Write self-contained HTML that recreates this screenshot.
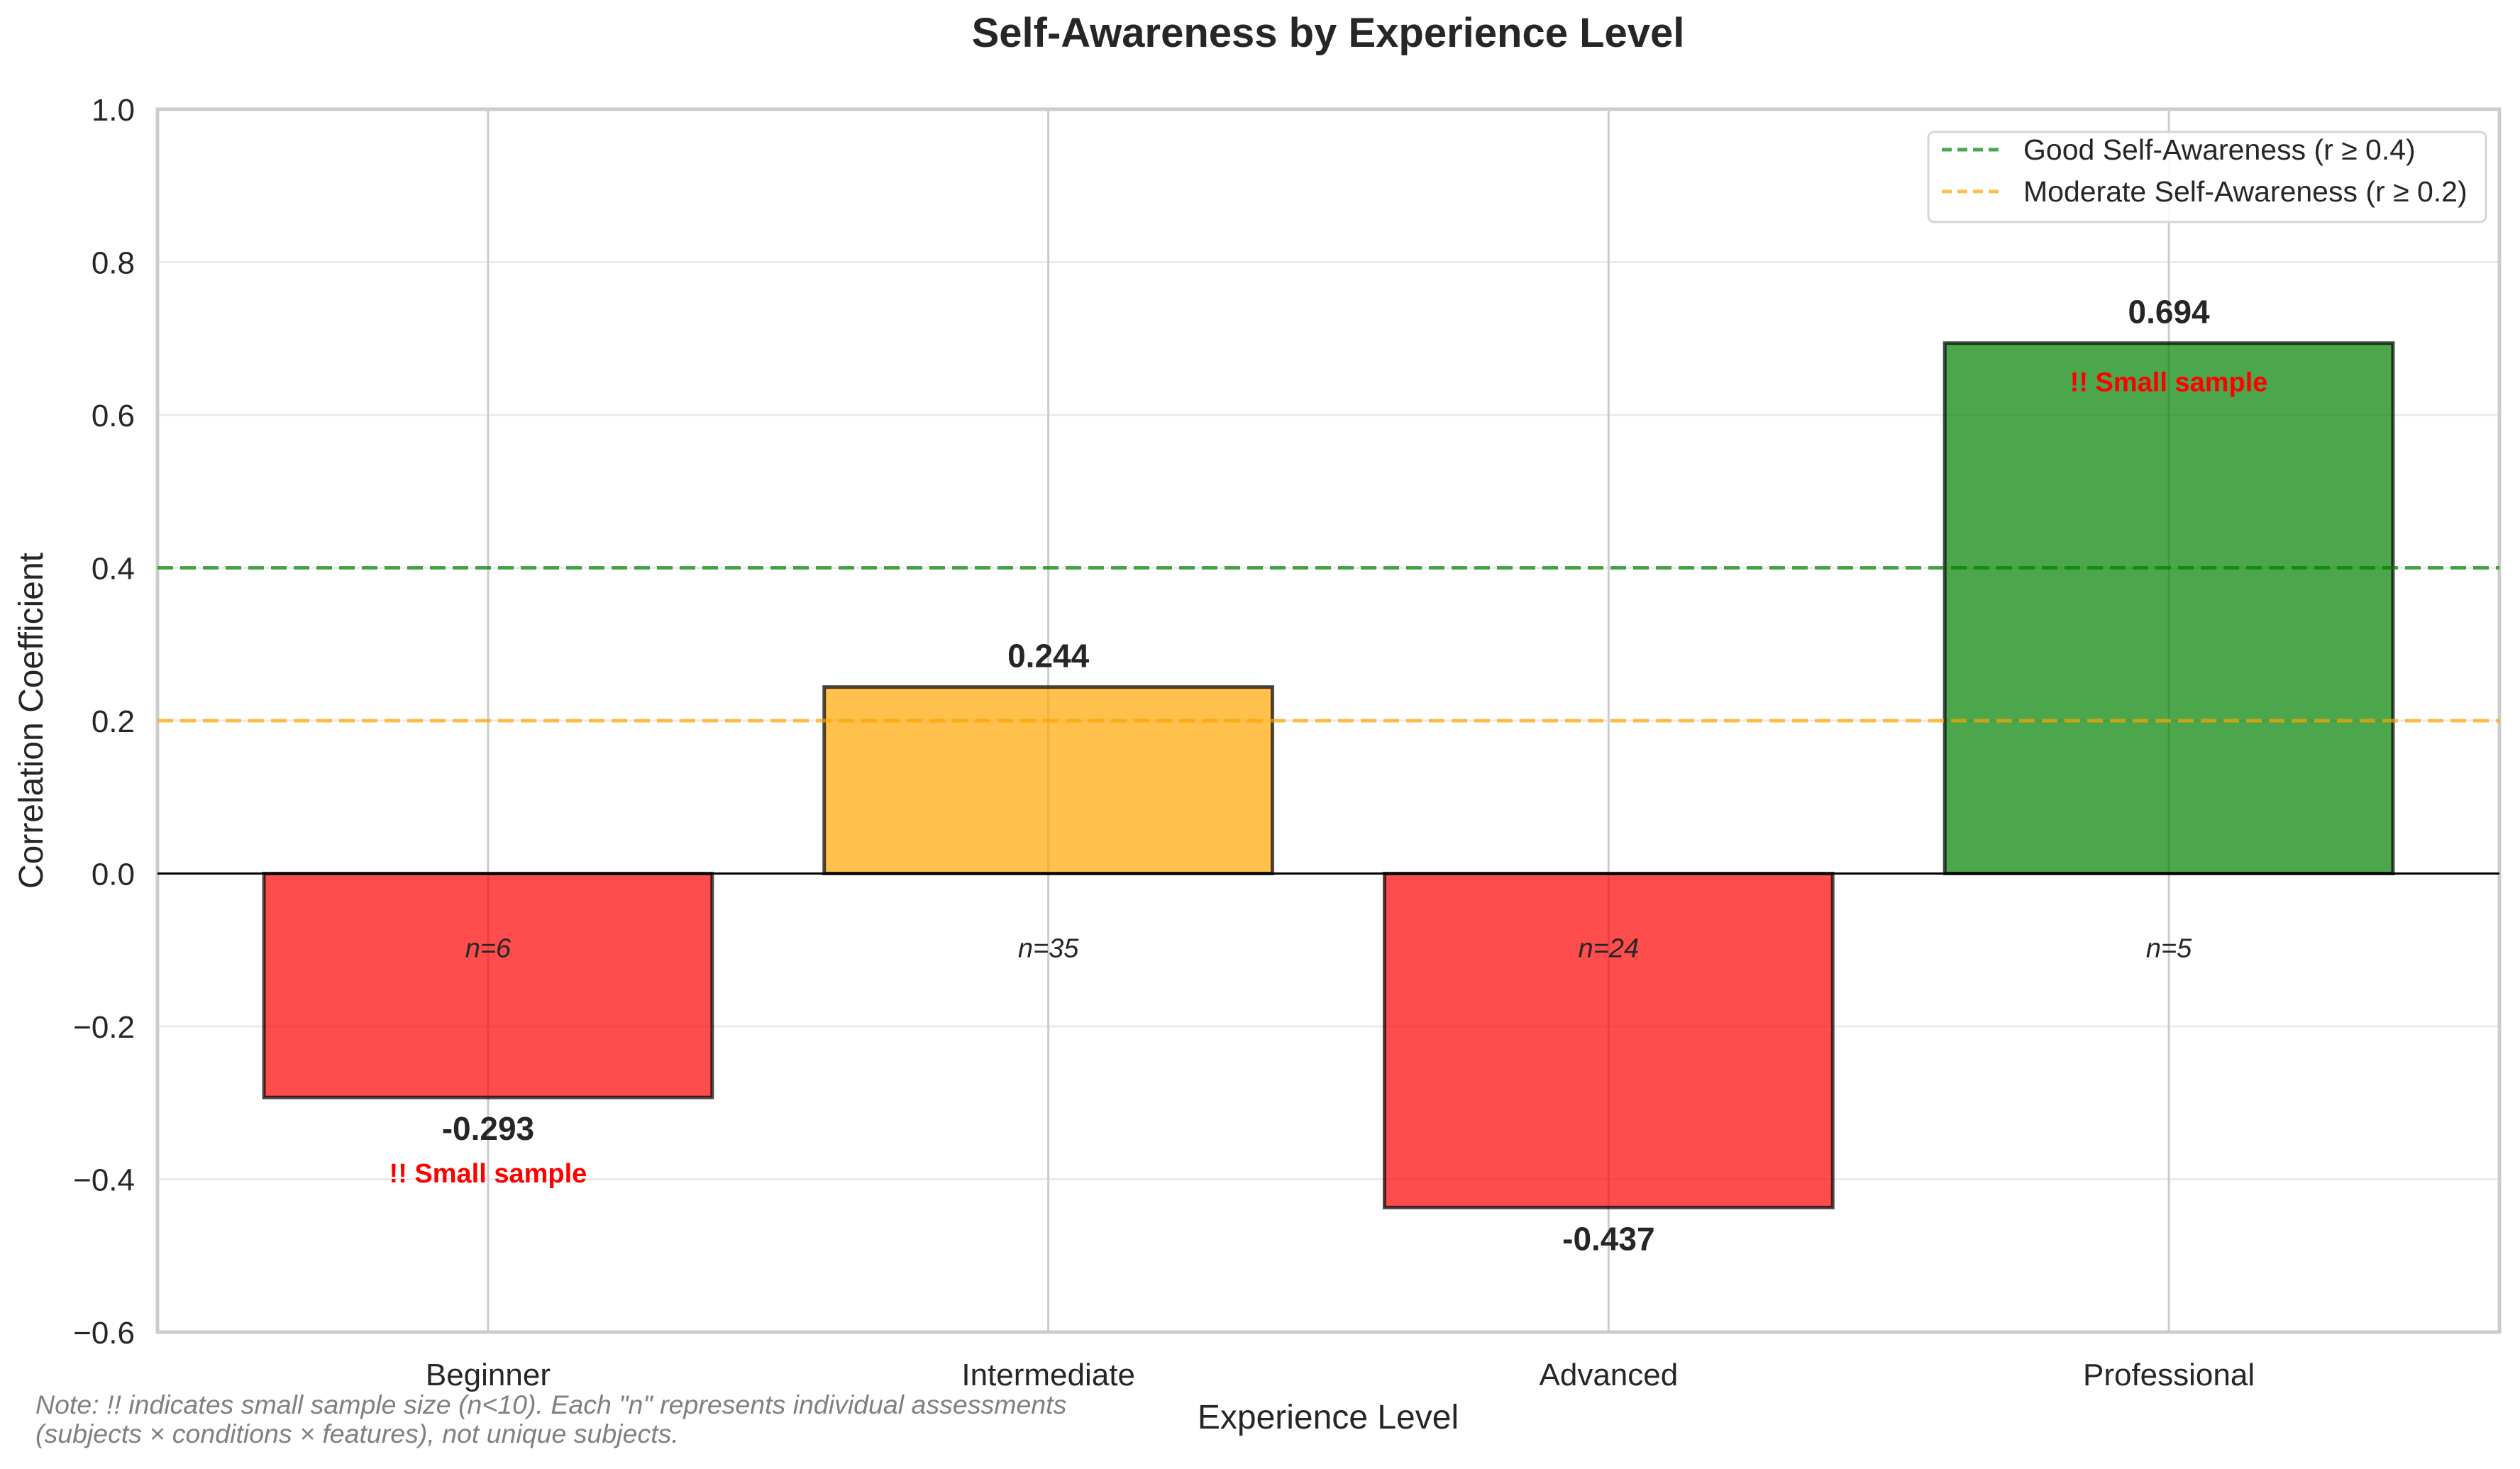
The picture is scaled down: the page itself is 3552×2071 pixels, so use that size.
<!DOCTYPE html>
<html><head><meta charset="utf-8"><style>
html,body{margin:0;padding:0;background:#fff}
svg{display:block;font-family:"Liberation Sans",sans-serif}
</style></head><body>
<svg id="chart" width="3552" height="2071" viewBox="0 0 3552 2071" xmlns="http://www.w3.org/2000/svg">
<rect width="3552" height="2071" fill="#fff"/>
<g id="grid"></g>
<g id="bars"></g>
<g id="labels"></g>
<text x="1872" y="66" text-anchor="middle" font-size="58" font-weight="bold" fill="#262626">Self-Awareness by Experience Level</text>
<text x="1872" y="2014" text-anchor="middle" font-size="48" fill="#262626">Experience Level</text>
<text transform="translate(60,1016) rotate(-90)" text-anchor="middle" font-size="48" fill="#262626">Correlation Coefficient</text>
<g>
<rect x="2718" y="186" width="786" height="127" rx="8" fill="#fff" fill-opacity="0.85" stroke="#d6d6d6" stroke-width="3"/>
<line x1="2737" y1="211" x2="2823" y2="211" stroke="#4da64d" stroke-width="5" stroke-dasharray="14,8"/>
<text x="2852" y="225" font-size="41" fill="#262626">Good Self-Awareness (r ≥ 0.4)</text>
<line x1="2737" y1="270" x2="2823" y2="270" stroke="#ffc04d" stroke-width="5" stroke-dasharray="14,8"/>
<text x="2852" y="284" font-size="41" fill="#262626">Moderate Self-Awareness (r ≥ 0.2)</text>
</g>
<text x="50" y="1993" font-size="37.5" font-style="italic" fill="#808080">Note: !! indicates small sample size (n&lt;10). Each "n" represents individual assessments</text>
<text x="50" y="2034" font-size="37.5" font-style="italic" fill="#808080">(subjects × conditions × features), not unique subjects.</text>
</svg>
<script>
const categories = ["Beginner","Intermediate","Advanced","Professional"];
const values = [-0.293, 0.244, -0.437, 0.694];
const counts = [6, 35, 24, 5];
const thresholds = [0.4, 0.2];
const yTicks = [-0.6,-0.4,-0.2,0.0,0.2,0.4,0.6,0.8,1.0];

const L=222,R=3523,T=154,B=1878;
const yMin=-0.6,yMax=1.0,xMin=-0.59,xMax=3.59;
const ys=v=>T+(yMax-v)/(yMax-yMin)*(B-T);
const xs=i=>L+(i-xMin)/(xMax-xMin)*(R-L);
const NS="http://www.w3.org/2000/svg";
function mk(tag,attrs,parent,text){const e=document.createElementNS(NS,tag);for(const k in attrs)e.setAttribute(k,attrs[k]);if(text!==undefined)e.textContent=text;parent.appendChild(e);return e;}
const grid=document.getElementById('grid'),bars=document.getElementById('bars'),labels=document.getElementById('labels');

yTicks.forEach(t=>{
  const y=ys(t);
  if(t>yMin&&t<yMax){const g=mk('line',{x1:L,x2:R,y1:y,y2:y,stroke:'#ebebeb','stroke-width':3},grid);
  
  }
  const lb=mk('text',{x:190,y:y+16,'text-anchor':'end','font-size':44,fill:'#262626'},grid,(t<0?'\u2212':'')+Math.abs(t).toFixed(1));
  
  
});
categories.forEach((c,i)=>{
  const x=xs(i);
  const g=mk('line',{x1:x,x2:x,y1:T,y2:B,stroke:'#cccccc','stroke-width':3},grid);
  
  
  const lb=mk('text',{x:x,y:1953,'text-anchor':'middle','font-size':44,fill:'#262626'},grid,c);
  
  
});
const sp=mk('rect',{x:L,y:T,width:R-L,height:B-T,fill:'none',stroke:'#cccccc','stroke-width':5},grid);



function color(v){return v>=0.4?'rgba(0,128,0,0.7)':(v>=0.2?'rgba(255,165,0,0.7)':'rgba(255,0,0,0.7)');}
const bw=0.8;
values.forEach((v,i)=>{
  const x0=xs(i-bw/2),x1=xs(i+bw/2),y0=ys(0),yv=ys(v);
  const r=mk('rect',{x:x0,y:Math.min(y0,yv),width:x1-x0,height:Math.abs(yv-y0),fill:color(v),stroke:'rgba(0,0,0,0.7)','stroke-width':5},bars);
  
  
  const cx=xs(i);
  const ly=v>=0?yv-28:yv+60;
  const t=mk('text',{x:cx,y:ly,'text-anchor':'middle','font-size':46,'font-weight':'bold',fill:'#262626'},labels,(v<0?'-':'')+Math.abs(v).toFixed(3));
  
  
  const n=mk('text',{x:cx,y:ys(0)+118,'text-anchor':'middle','font-size':38,'font-style':'italic',fill:'#262626'},labels,'n='+counts[i]);
  
  
  if(counts[i]<10){
    const sy=v>=0?yv+68:yv+120;
    const s=mk('text',{x:cx,y:sy,'text-anchor':'middle','font-size':38,'font-weight':'bold',fill:'#ff0000'},labels,'!! Small sample');
    
    
  }
});
const z=mk('line',{x1:L,x2:R,y1:ys(0),y2:ys(0),stroke:'#000','stroke-width':3},labels);


const tcol=['rgba(0,128,0,0.7)','rgba(255,165,0,0.7)'];
thresholds.forEach((t,i)=>{
  const l=mk('line',{x1:L,x2:R,y1:ys(t),y2:ys(t),stroke:tcol[i],'stroke-width':5,'stroke-dasharray':'22,10'},labels);
  
  
});
</script>
</body></html>
